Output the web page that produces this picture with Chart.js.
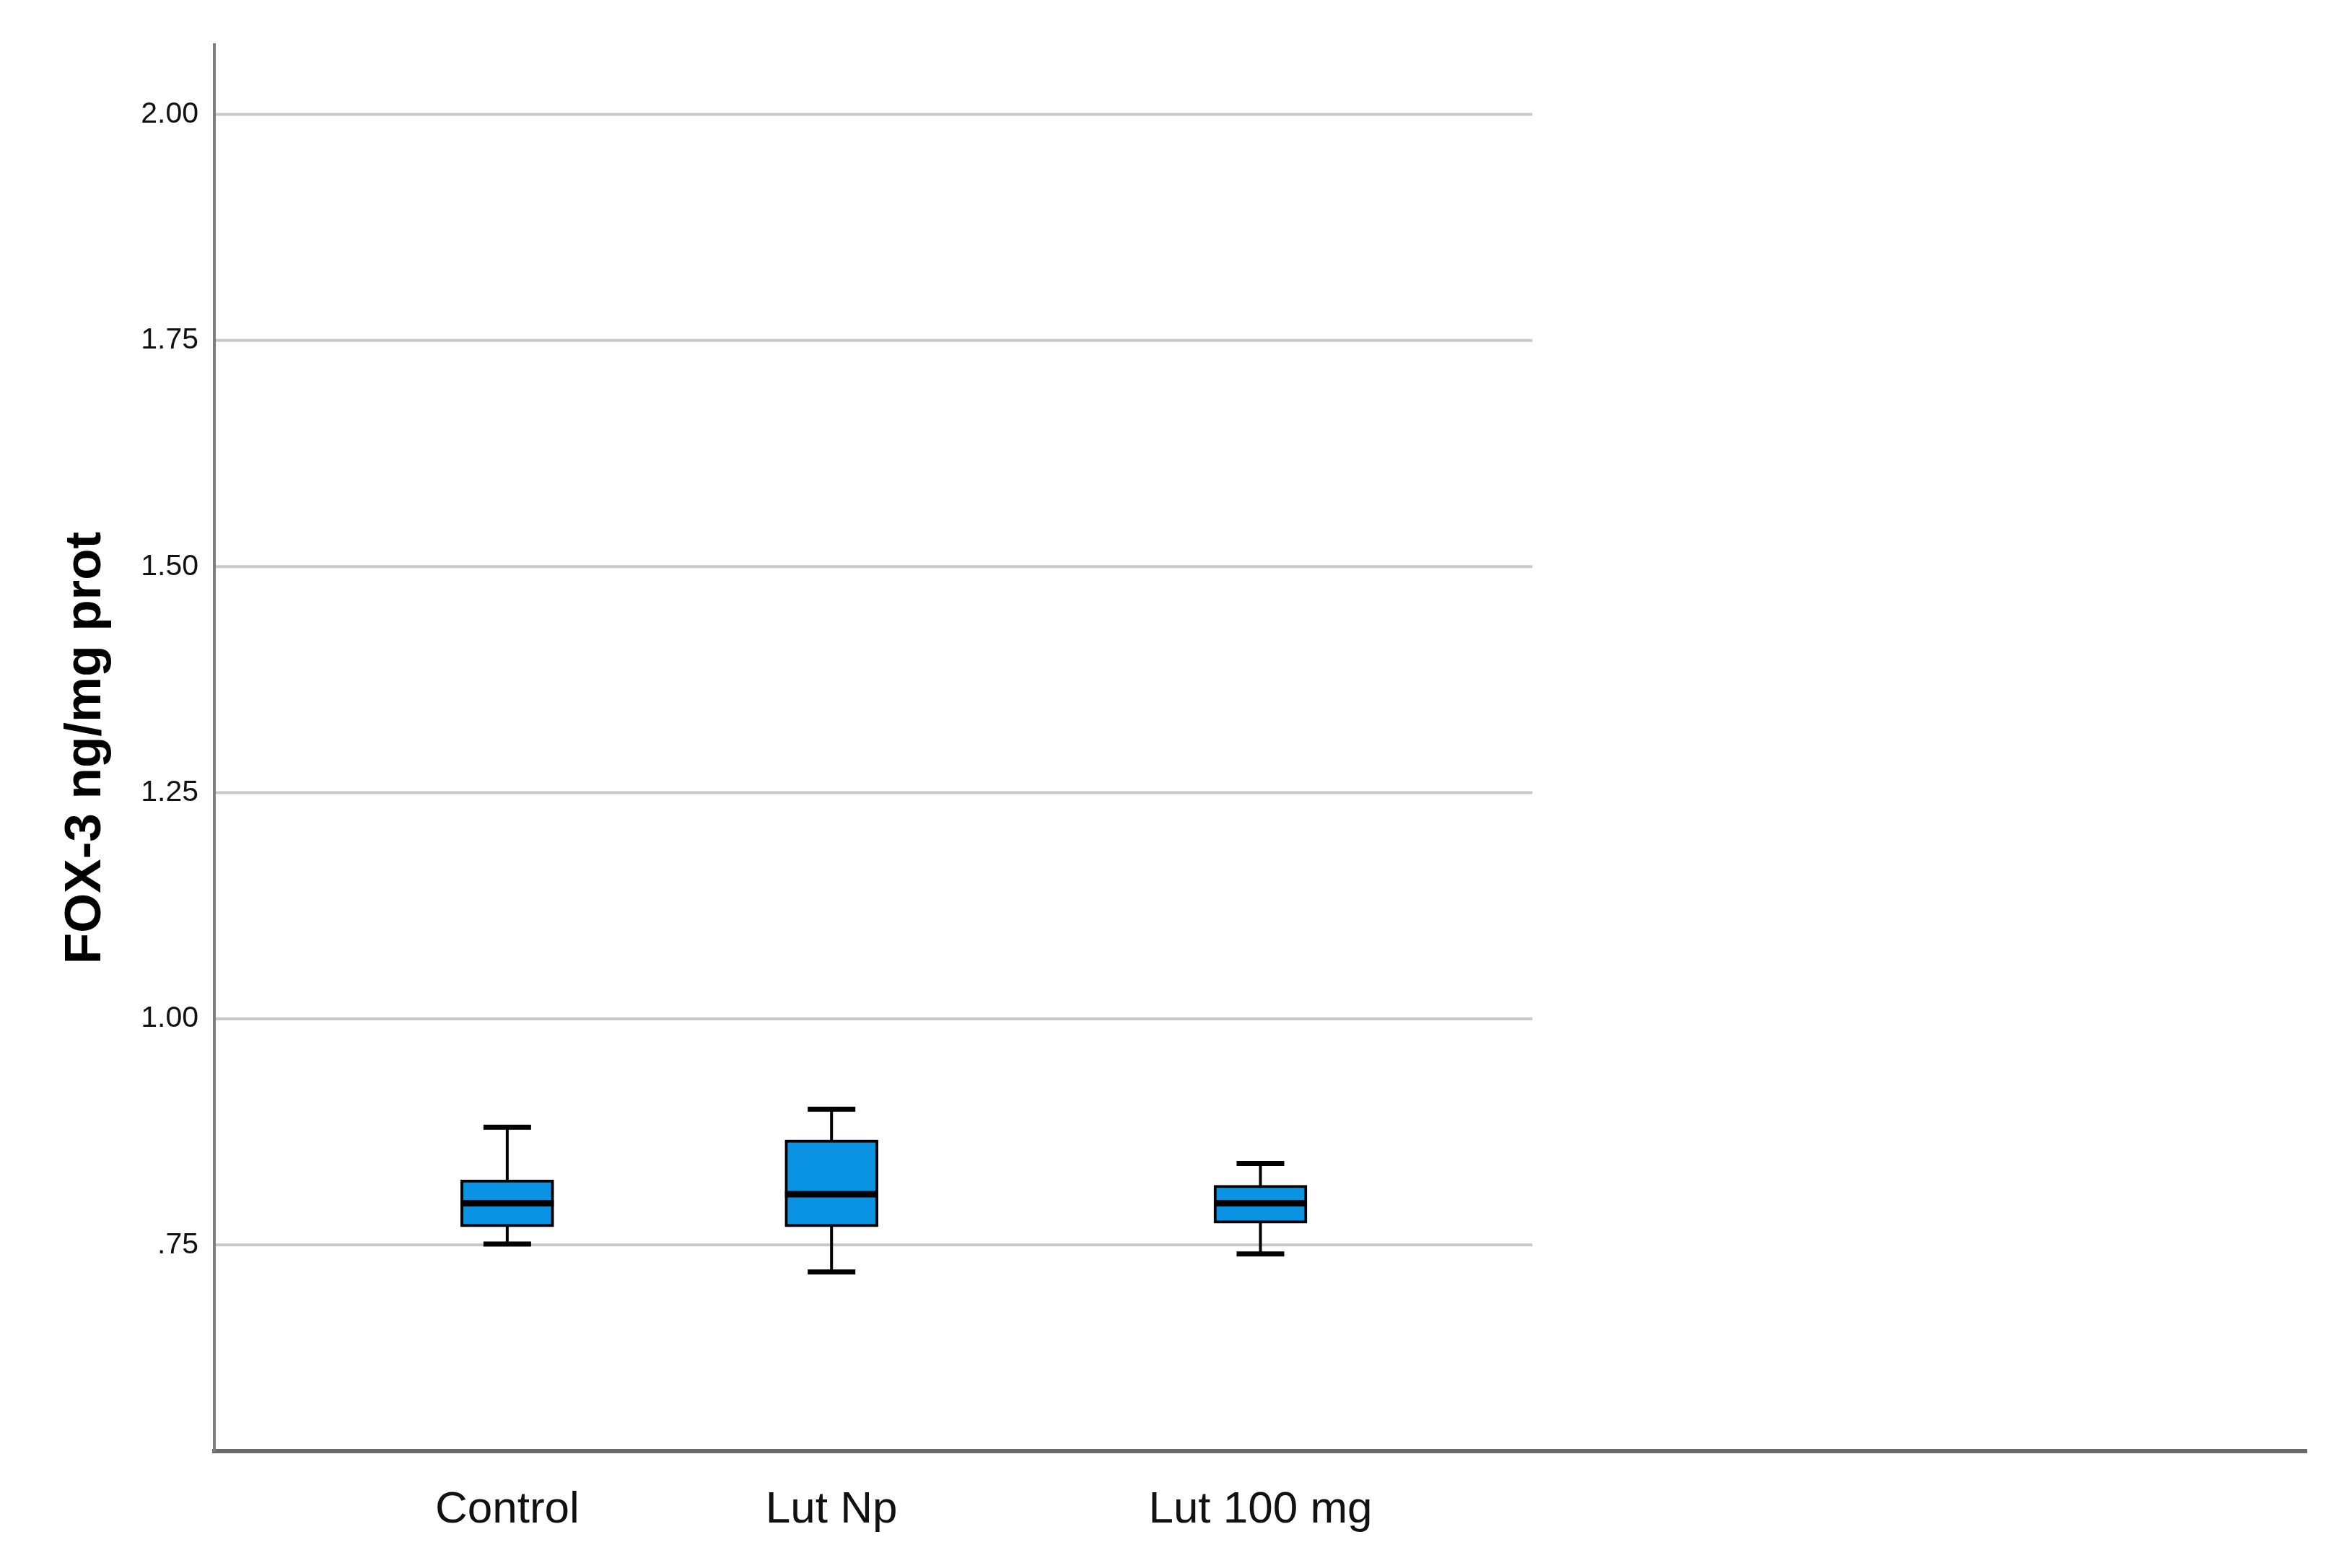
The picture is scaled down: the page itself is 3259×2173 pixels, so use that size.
<!DOCTYPE html>
<html>
<head>
<meta charset="utf-8">
<script src="https://cdn.jsdelivr.net/npm/chart.js@4.4.1/dist/chart.umd.min.js"></script>
<style>
  html, body { margin: 0; padding: 0; background: #fff; }
  canvas { display: block; }
</style>
</head>
<body>
<canvas id="boxChart" width="3259" height="2173"></canvas>
<script>
// groups and where they sit along the x axis (spacing is uneven in the original)
const groups = ['Control', 'Lut Np', 'Lut 100 mg'];
const groupPos = [1.4, 2.95, 5.0];

// box plot stats
const whiskerLow  = [0.751, 0.720, 0.740];
const q1          = [0.770, 0.770, 0.774];
const median      = [0.796, 0.806, 0.796];
const q3          = [0.822, 0.866, 0.816];
const whiskerHigh = [0.880, 0.900, 0.840];

const yTicks      = [0.75, 1.00, 1.25, 1.50, 1.75, 2.00];
const yTickLabels = ['.75', '1.00', '1.25', '1.50', '1.75', '2.00'];

const labelFont = "'Liberation Sans', Arial, sans-serif";
const gridEnd = 6.3;   // gridlines stop part way across, like the SPSS output
const capHalf = 33;

// gridlines, whiskers and medians
const boxParts = {
    id: 'boxParts',
    beforeDatasetsDraw(chart) {
        const ctx = chart.ctx;
        const x = chart.scales.x, y = chart.scales.y;
        const area = chart.chartArea;
        ctx.save();
        ctx.strokeStyle = '#c8c8c8';
        ctx.lineWidth = 4;
        const gx = x.getPixelForValue(gridEnd);
        yTicks.forEach(function (v) {
            const py = y.getPixelForValue(v);
            ctx.beginPath();
            ctx.moveTo(area.left + 2, py);
            ctx.lineTo(gx, py);
            ctx.stroke();
        });

        ctx.strokeStyle = '#000';
        groupPos.forEach(function (p, i) {
            const px = x.getPixelForValue(p);
            ctx.lineWidth = 4;
            ctx.beginPath();
            ctx.moveTo(px, y.getPixelForValue(whiskerLow[i]));
            ctx.lineTo(px, y.getPixelForValue(whiskerHigh[i]));
            ctx.stroke();
            ctx.lineWidth = 7;
            [whiskerLow[i], whiskerHigh[i]].forEach(function (v) {
                const py = y.getPixelForValue(v);
                ctx.beginPath();
                ctx.moveTo(px - capHalf, py);
                ctx.lineTo(px + capHalf, py);
                ctx.stroke();
            });
        });
        ctx.restore();
    },
    afterDatasetsDraw(chart) {
        const ctx = chart.ctx;
        const y = chart.scales.y;
        const meta = chart.getDatasetMeta(0);
        ctx.save();
        ctx.strokeStyle = '#000';
        ctx.lineWidth = 9;
        meta.data.forEach(function (bar, i) {
            const py = y.getPixelForValue(median[i]);
            ctx.beginPath();
            ctx.moveTo(bar.x - bar.width / 2, py);
            ctx.lineTo(bar.x + bar.width / 2, py);
            ctx.stroke();
        });
        ctx.restore();
    }
};

new Chart(document.getElementById('boxChart'), {
    type: 'bar',
    data: {
        datasets: [{
            label: 'FOX-3',
            data: groupPos.map(function (p, i) { return { x: p, y: [q1[i], q3[i]] }; }),
            backgroundColor: '#0a93e3',
            borderColor: '#000',
            borderWidth: 4,
            borderSkipped: false,
            barThickness: 129
        }]
    },
    options: {
        responsive: false,
        animation: false,
        layout: { padding: { top: 62, right: 63, left: 0, bottom: 0 } },
        plugins: {
            legend: { display: false },
            tooltip: { enabled: false }
        },
        scales: {
            x: {
                type: 'linear',
                min: 0,
                max: 10,
                offset: false,
                grid: { display: false, drawTicks: false },
                border: { color: '#6a6a6a', width: 6 },
                afterBuildTicks: function (s) { s.ticks = groupPos.map(function (v) { return { value: v }; }); },
                afterFit: function (s) { s.height = 162; },
                ticks: {
                    autoSkip: false,
                    maxRotation: 0,
                    padding: 45,
                    color: '#111',
                    font: { family: labelFont, size: 62 },
                    callback: function (v) { return groups[groupPos.indexOf(v)]; }
                }
            },
            y: {
                type: 'linear',
                min: 0.522,
                max: 2.077,
                grid: { display: false, drawTicks: false },
                border: { color: '#7e7e7e', width: 4 },
                afterBuildTicks: function (s) { s.ticks = yTicks.map(function (v) { return { value: v }; }); },
                afterFit: function (s) { s.width = 297; },
                ticks: {
                    padding: 22,
                    color: '#111',
                    font: { family: labelFont, size: 41 },
                    callback: function (v) { return yTickLabels[yTicks.indexOf(v)]; }
                },
                title: {
                    display: true,
                    text: 'FOX-3 ng/mg prot',
                    color: '#000',
                    padding: { top: 77 },
                    font: { family: labelFont, size: 71, weight: 'bold' }
                }
            }
        }
    },
    plugins: [boxParts]
});
</script>
</body>
</html>
